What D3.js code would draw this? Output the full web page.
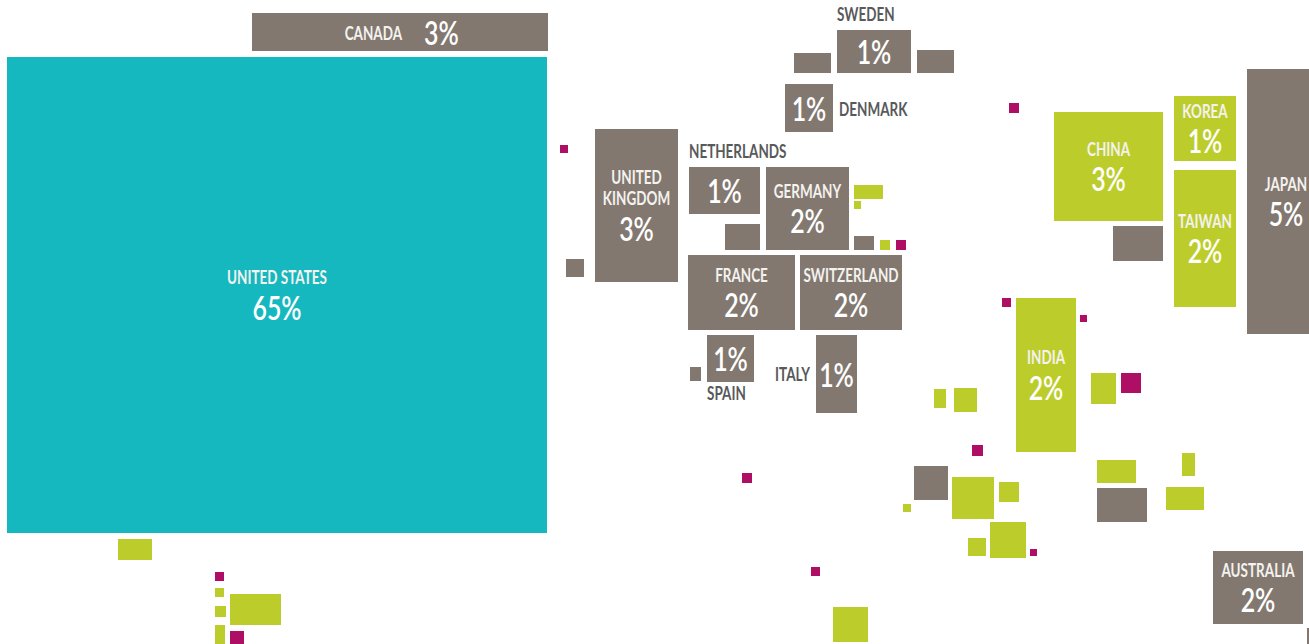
<!DOCTYPE html>
<html>
<head>
<meta charset="utf-8">
<script src="https://cdn.jsdelivr.net/npm/d3@7"></script>
<style>
  html, body { margin: 0; padding: 0; background: #fff; overflow: hidden; }
  svg { display: block; }
</style>
</head>
<body>
<svg></svg>
<script>
// Blocks of the cartogram in map units
const blockNames = ["United States", "Canada", "Sweden", "Sweden west", "Sweden east", "Denmark", "Atlantic dot",
    "United Kingdom", "Netherlands", "Germany", "Belgium", "East Europe A", "East Europe B", "Austria", "East Europe C", "East Europe D",
    "France", "Switzerland", "Ireland", "Spain", "Portugal", "Italy", "Central Asia dot", "China", "Korea", "Taiwan", "Japan",
    "Hong Kong", "South Asia dot", "India", "Bangladesh dot", "Thailand", "Vietnam dot", "Egypt", "Saudi Arabia", "Gulf dot",
    "Israel", "Africa A", "Africa B", "Africa C", "Africa D", "Africa E", "Africa F", "Malaysia", "Singapore", "Philippines",
    "Indonesia", "Australia", "New Zealand", "Mexico", "Caribbean dot", "Colombia", "Peru", "Chile", "Brazil", "Argentina",
    "West Africa dot", "South Atlantic dot", "South Africa"];
const blockRegion = ["us", "dev", "dev", "dev", "dev", "dev", "front",
    "dev", "dev", "dev", "dev", "emerg", "emerg", "dev", "emerg", "front",
    "dev", "dev", "dev", "dev", "dev", "dev", "front", "emerg", "emerg", "emerg", "dev",
    "dev", "front", "emerg", "front", "emerg", "front", "emerg", "emerg", "front",
    "dev", "emerg", "emerg", "emerg", "emerg", "emerg", "front", "emerg", "dev", "emerg",
    "emerg", "dev", "dev", "emerg", "front", "emerg", "emerg", "emerg", "emerg", "front",
    "front", "front", "emerg"];
const mapX = [7, 252, 837, 794, 917, 785, 560, 595, 689, 766, 725, 854, 854, 854, 880, 896, 688, 800, 566, 707, 690, 816, 1009, 1054, 1174, 1174, 1247,
    1113, 1002, 1016, 1080, 1091, 1121, 954, 952, 972, 914, 999, 903, 990, 968, 934, 1030, 1097, 1097, 1182,
    1166, 1213, 1307, 118, 215, 215, 215, 215, 230, 230, 742, 811, 833];
const mapY = [57, 13, 30, 53, 50, 84, 145, 129, 167, 167, 224, 185, 201, 236, 240, 240, 255, 255, 259, 335, 367, 335, 103, 112, 96, 170, 69,
    226, 298, 298, 315, 373, 373, 388, 477, 445, 466, 482, 504, 522, 538, 389, 549, 460, 488, 453,
    487, 551, 628, 539, 572, 588, 606, 625, 594, 631, 473, 567, 607];
const mapW = [540, 296, 74, 37, 37, 48, 8, 83, 71, 83, 35, 29, 7, 20, 10, 10, 107, 102, 18, 47, 11, 41, 10, 109, 62, 62, 78,
    50, 9, 60, 7, 25, 20, 23, 42, 11, 34, 20, 8, 36, 18, 12, 7, 39, 50, 13,
    38, 90, 6, 34, 9, 9, 11, 10, 51, 14, 10, 9, 35];
const mapH = [476, 38, 43, 20, 23, 48, 8, 153, 47, 83, 26, 14, 8, 14, 10, 10, 75, 75, 18, 47, 14, 78, 10, 109, 65, 137, 265,
    35, 9, 154, 7, 31, 20, 24, 42, 11, 34, 20, 8, 36, 18, 19, 7, 23, 34, 23,
    23, 73, 30, 21, 9, 9, 11, 30, 31, 14, 10, 9, 35];

// Labelled blocks only
const labelBlocks = ["United States", "Canada", "Sweden", "Denmark", "United Kingdom", "Netherlands", "Germany", "France",
    "Switzerland", "Spain", "Italy", "China", "Korea", "Taiwan", "Japan", "India", "Australia"];
const labelLines = [["UNITED STATES"], ["CANADA"], ["SWEDEN"], ["DENMARK"], ["UNITED", "KINGDOM"], ["NETHERLANDS"], ["GERMANY"], ["FRANCE"],
    ["SWITZERLAND"], ["SPAIN"], ["ITALY"], ["CHINA"], ["KOREA"], ["TAIWAN"], ["JAPAN"], ["INDIA"], ["AUSTRALIA"]];
const labelShares = [65, 3, 1, 1, 3, 1, 2, 2, 2, 1, 1, 3, 1, 2, 5, 2, 2];
const labelPlace = ["inside", "inline", "above", "right", "inside", "above", "inside", "inside",
    "inside", "below", "left", "inside", "inside", "inside", "inside", "inside", "inside"];

const width = 1309, height = 644;

const svg = d3.select("svg")
    .attr("width", width)
    .attr("height", height);

// Map units to the page
const xScale = d3.scaleLinear().domain([0, 1309]).range([0, width]);
const yScale = d3.scaleLinear().domain([0, 644]).range([0, height]);
const sizeX = d3.scaleLinear().domain([0, 1309]).range([0, width]);
const sizeY = d3.scaleLinear().domain([0, 644]).range([0, height]);

const color = d3.scaleOrdinal()
    .domain(["us", "dev", "emerg", "front"])
    .range(["#16b8bf", "#827870", "#bccd2b", "#ae0e63"]);

const blocks = blockNames.map((name, i) => ({
    name: name,
    region: blockRegion[i],
    x: xScale(mapX[i]),
    y: yScale(mapY[i]),
    w: sizeX(mapW[i]),
    h: sizeY(mapH[i])
}));

svg.append("g")
    .selectAll("rect")
    .data(blocks)
    .enter()
    .append("rect")
    .attr("x", d => d.x)
    .attr("y", d => d.y)
    .attr("width", d => d.w)
    .attr("height", d => d.h)
    .attr("fill", d => color(d.region));

// Text is squeezed sideways, the installed fonts have no condensed cut
const labelFont = { size: 18, squeeze: 0.75, weight: 700 };
const shareFont = { size: 32, squeeze: 0.78, weight: 600 };
const capLabel = 13, capShare = 23.5, lineGap = 8, stackGap = 11;

function putText(g, str, x, y, font, anchor, fill) {
    g.append("text")
        .attr("transform", `translate(${x},${y}) scale(${font.squeeze},1)`)
        .attr("text-anchor", anchor)
        .attr("font-family", "Lato, sans-serif")
        .attr("font-size", font.size)
        .attr("font-weight", font.weight)
        .attr("fill", fill)
        .text(str);
}

const labels = svg.append("g");

labelBlocks.forEach((name, i) => {
    const b = blocks[blockNames.indexOf(name)];
    const lines = labelLines[i];
    const share = labelShares[i] + "%";
    const cx = b.x + b.w / 2, cy = b.y + b.h / 2;
    const place = labelPlace[i];

    if (place === "inside") {
        // stack of label lines and the share, centred in the block
        const total = lines.length * capLabel + (lines.length - 1) * lineGap + stackGap + capShare;
        let y = cy - total / 2;
        lines.forEach(line => {
            y += capLabel;
            putText(labels, line, cx, y, labelFont, "middle", "#f4f2ee");
            y += lineGap;
        });
        y += stackGap - lineGap + capShare + 1;
        putText(labels, share, cx, y, shareFont, "middle", "#fff");
        return;
    }

    // the share sits alone in the middle of small blocks
    if (place === "inline") {
        putText(labels, lines[0], cx + 2, cy + capLabel / 2 + 1, labelFont, "end", "#f4f2ee");
        putText(labels, share, cx + 24, cy + capShare / 2 + 1, shareFont, "start", "#fff");
        return;
    }
    putText(labels, share, cx, cy + capShare / 2 + 1, shareFont, "middle", "#fff");

    if (place === "above") {
        putText(labels, lines[0], b.x, b.y - 9, labelFont, "start", "#58595b");
    } else if (place === "below") {
        putText(labels, lines[0], b.x, b.y + b.h + 18, labelFont, "start", "#58595b");
    } else if (place === "right") {
        putText(labels, lines[0], b.x + b.w + 6, cy + capLabel / 2 + 1, labelFont, "start", "#58595b");
    } else if (place === "left") {
        putText(labels, lines[0], b.x - 6, cy + capLabel / 2, labelFont, "end", "#58595b");
    }
});
</script>
</body>
</html>
